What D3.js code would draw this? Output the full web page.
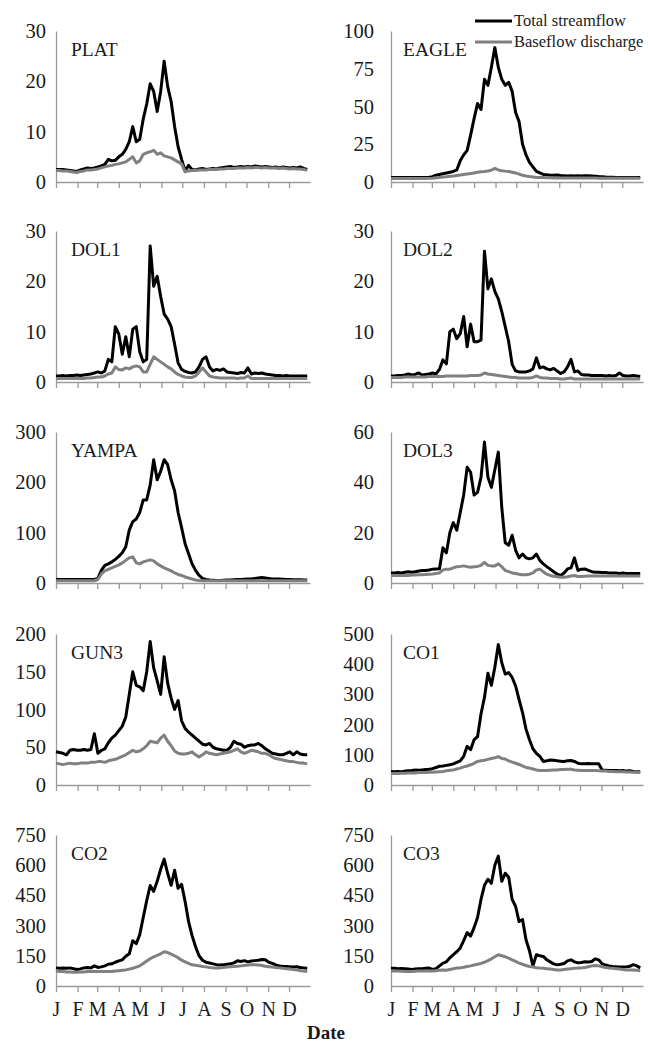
<!DOCTYPE html>
<html><head><meta charset="utf-8">
<script src="https://cdn.jsdelivr.net/npm/d3@7"></script>
<style>body{margin:0;background:#fff}svg{display:block}
svg text{font-family:"Liberation Serif","Times New Roman",Times,"DejaVu Serif",serif !important;}
</style>
</head><body>
<svg id="chart" width="648" height="1046"></svg>
<script>
// ---- data ----
const monthLabels = ["J","F","M","A","M","J","J","A","S","O","N","D"];
const sampleDays = d3.range(0, 361, 5); // day of year of each sample
const legendLabels = ["Total streamflow", "Baseflow discharge"];
const xTitle = "Date";

const platTotal = [2.5,2.5,2.5,2.4,2.3,2.2,2.1,2.4,2.6,2.8,
2.7,2.8,3.0,3.2,3.5,4.5,4.2,4.3,5.0,5.5,
6.5,8.0,11.0,8.0,8.5,12.5,15.5,19.5,18.0,14.0,
18.0,24.0,19.0,16.0,11.0,7.0,4.5,2.2,3.3,2.5,
2.4,2.6,2.7,2.5,2.6,2.7,2.6,2.8,2.9,3.0,
3.1,2.9,3.0,3.1,3.0,3.1,3.0,3.2,3.1,3.0,
3.1,3.0,2.9,3.0,2.8,3.0,2.9,2.8,2.9,2.8,
3.0,2.7,2.5];
const platBase = [2.3,2.3,2.2,2.2,2.1,2.0,1.9,2.1,2.2,2.4,
2.4,2.5,2.6,2.8,3.0,3.2,3.3,3.5,3.6,3.8,
4.0,4.5,5.0,3.8,4.2,5.5,5.8,6.0,6.3,5.5,
5.8,5.2,5.0,4.8,4.4,4.0,3.6,2.0,2.2,2.3,
2.3,2.4,2.4,2.4,2.5,2.5,2.5,2.6,2.6,2.7,
2.7,2.7,2.8,2.8,2.8,2.9,2.8,2.9,2.9,2.8,
2.9,2.8,2.8,2.8,2.7,2.8,2.7,2.6,2.7,2.6,
2.6,2.5,2.3];
const eagleTotal = [3,3,3,3,3,3,3,3,3,3,
3,3.2,3.5,4.5,5,5.5,6,6.5,7,8,
14,18,21,31,42,52,48,68,64,76,
89,76,68,64,66,60,46,40,25,18,
13,10,7,6,5,4.8,4.5,4.5,4.6,4.3,
4.2,4.0,4.2,4.0,4.1,4.0,4.2,4.1,4.0,3.8,
3.6,3.5,3.3,3.2,3.1,3.0,3.0,3.0,2.9,3.0,
3.0,2.9,2.9];
const eagleBase = [2.3,2.3,2.3,2.3,2.3,2.3,2.3,2.3,2.3,2.3,
2.3,2.4,2.5,2.8,3.0,3.3,3.5,3.8,4.0,4.3,
4.6,5.0,5.3,5.6,6.0,6.4,6.8,7.0,7.3,7.8,
9.0,8.0,7.5,7.2,7.0,6.5,6.0,5.2,4.5,4.0,
3.6,3.3,3.0,3.0,2.9,2.8,2.8,2.7,2.7,2.6,
2.6,2.6,2.6,2.6,2.6,2.6,2.6,2.6,2.6,2.6,
2.5,2.5,2.5,2.5,2.5,2.5,2.5,2.5,2.5,2.5,
2.5,2.5,2.4];
const dol1Total = [1.2,1.2,1.3,1.2,1.3,1.3,1.4,1.3,1.4,1.5,
1.6,1.8,2.0,1.8,2.2,4.5,4.0,11.0,9.5,5.5,
9.0,5.0,10.5,11.0,6.0,4.0,4.5,27.0,19.0,21.0,
17.0,13.5,12.5,11.0,7.5,3.8,2.5,2.1,1.9,1.8,
2.0,3.0,4.5,5.0,3.0,2.2,2.5,2.3,2.6,2.0,
1.9,1.8,1.7,1.9,1.8,2.8,1.6,1.8,1.7,1.8,
1.6,1.5,1.4,1.3,1.3,1.2,1.3,1.2,1.2,1.2,
1.2,1.2,1.2];
const dol1Base = [0.7,0.7,0.7,0.7,0.7,0.7,0.7,0.7,0.7,0.8,
0.8,0.9,1.0,1.0,1.2,1.6,1.8,3.0,2.5,2.4,
2.8,2.6,3.0,3.2,3.0,2.0,2.0,3.5,5.0,4.5,
4.0,3.5,3.0,2.6,2.0,1.5,1.2,1.0,0.9,0.9,
1.2,2.0,2.8,2.0,1.2,1.0,0.9,0.8,0.8,0.8,
0.8,0.8,0.7,0.8,0.8,1.2,0.7,0.7,0.7,0.7,
0.7,0.7,0.7,0.7,0.7,0.7,0.7,0.7,0.7,0.7,
0.7,0.7,0.7];
const dol2Total = [1.2,1.2,1.3,1.3,1.4,1.6,1.4,1.5,1.8,1.4,
1.5,1.6,1.8,1.6,2.5,4.4,3.6,10.0,10.5,8.6,
9.6,13.0,7.0,11.5,8.0,8.0,8.3,26.0,18.5,20.5,
18.0,16.5,14.0,11.0,8.0,3.5,2.2,2.0,2.0,2.0,
2.2,2.6,4.8,2.8,3.0,2.6,2.4,2.7,2.2,1.7,
2.0,3.0,4.5,2.0,2.2,1.5,1.4,1.4,1.3,1.3,
1.3,1.3,1.2,1.3,1.2,1.3,1.8,1.3,1.2,1.2,
1.3,1.2,1.1];
const dol2Base = [0.9,0.9,0.9,0.9,1.0,1.0,1.0,1.0,1.0,1.0,
1.0,1.1,1.1,1.1,1.1,1.1,1.2,1.2,1.2,1.2,
1.2,1.2,1.2,1.3,1.3,1.3,1.4,1.8,1.6,1.5,
1.4,1.3,1.2,1.1,1.0,0.9,0.9,0.8,0.8,0.8,
0.8,0.9,1.2,0.9,0.8,0.8,0.7,0.7,0.7,0.6,
0.6,0.7,0.8,0.6,0.6,0.6,0.6,0.6,0.6,0.6,
0.6,0.6,0.6,0.6,0.6,0.6,0.6,0.6,0.6,0.6,
0.6,0.6,0.6];
const yampaTotal = [7,7,7,7,7,7,7,7,7,7,
7,7,9,25,35,38,42,47,53,60,
72,105,122,127,140,165,165,195,245,205,
222,245,235,205,183,140,110,78,58,38,
25,15,9,7,6,5.5,5,5,5.5,6,
6,6.5,7,7,7.5,8,8,9,10,11,
10,9,8,8,8,7.5,7,7,6.5,6.5,
6.5,6,6];
const yampaBase = [4.5,4.5,4.5,4.5,4.5,4.5,4.5,4.5,4.5,4.5,
4.5,4.5,7,18,24,27,30,33,36,40,
45,50,52,40,38,42,44,46,44,38,
34,30,27,24,20,17,15,12,10,8,
6,5,4.5,4.5,4.5,4.5,4.5,4.5,4.5,4.5,
4.5,4.5,4.5,4.5,4.5,4.5,4.5,4.5,4.5,4.5,
4.5,4.5,4.5,4.5,4.5,4.5,4.5,4.5,4.5,4.5,
4.5,4.5,4.5];
const dol3Total = [4,4,4.2,4,4.3,4.5,4.3,4.5,4.8,5,
5,5.2,5.5,5.6,5.7,14,12,20,24,21,
28,35,46,44,35,36,42,56,42,38,
45,52,30,16,15,19,13,10,11.5,10,
9.6,10,11.5,9,7.6,6.5,5.5,4.5,3.5,3,
4,5.6,6,10,5,5.5,5.6,5,4.5,4.3,
4.3,4.2,4.2,4,4,4,3.8,4,3.8,3.8,
3.8,3.8,3.8];
const dol3Base = [3,3,3,3,3,3,3.2,3.2,3.3,3.3,
3.4,3.5,3.6,3.8,4.0,5.2,5.5,5.5,6.0,6.5,
6.6,6.8,6.5,6.3,6.5,6.6,7.0,8.2,7.0,6.8,
6.8,7.6,6.5,5.0,4.5,4.0,3.8,3.5,3.3,3.3,
3.5,4.0,5.2,5.5,4.5,3.5,3.0,2.7,2.5,2.3,
2.3,2.5,2.8,3.0,2.6,2.6,2.7,2.8,2.8,2.8,
2.8,2.8,2.8,2.8,2.8,2.8,2.8,2.8,2.8,2.8,
2.8,2.8,2.8];
const gun3Total = [44,43,42,40,46,47,46,46,47,46,
47,68,42,46,48,56,62,66,72,78,
90,120,150,132,130,125,150,190,155,138,
120,170,135,115,100,112,85,75,70,66,
62,58,54,53,55,50,48,47,46,46,
50,58,55,54,50,52,53,53,55,52,
48,45,42,41,40,40,42,44,40,44,
41,40,40];
const gun3Base = [29,28,27,28,29,28,28,29,29,29,
30,30,31,31,30,32,33,34,36,38,
40,43,46,44,45,48,52,58,57,56,
62,66,58,52,45,42,41,41,42,44,
40,37,40,44,42,41,40,41,42,43,
44,46,48,44,42,44,46,45,44,42,
42,40,37,35,34,33,32,31,31,30,
29,29,28];
const co1Total = [45,44,45,44,46,47,48,50,49,50,
51,52,54,58,62,63,65,67,70,75,
80,95,128,117,150,160,235,290,370,330,
390,465,405,367,372,356,328,283,240,185,
150,120,105,95,78,80,83,82,80,79,
78,80,81,78,72,70,70,71,70,70,
70,50,49,48,48,48,47,48,46,47,
45,44,44];
const co1Base = [38,38,38,39,39,40,40,40,41,41,
41,42,42,43,44,45,47,49,50,53,
56,60,63,67,72,78,80,82,85,88,
90,94,88,86,80,76,72,68,63,58,
56,53,50,48,48,48,49,50,50,51,
51,52,52,50,49,48,48,48,48,48,
47,46,46,45,45,44,44,44,43,43,
42,42,41];
const co2Total = [90,88,89,88,90,86,82,85,90,92,
90,100,92,95,100,108,110,118,125,130,
148,160,225,210,255,340,424,499,470,520,
580,630,560,500,575,485,505,420,320,250,
195,150,128,118,114,110,106,104,105,108,
110,115,125,122,126,120,124,126,128,132,
130,118,112,105,100,98,97,96,95,96,
92,90,88];
const co2Base = [74,72,72,70,70,68,68,70,70,72,
72,72,72,72,72,72,72,74,76,78,
80,84,88,94,100,112,124,135,145,152,
160,170,166,158,150,140,128,120,112,105,
103,100,97,95,92,90,89,90,92,94,
96,97,98,100,102,104,106,105,104,102,
98,96,94,92,90,88,86,84,82,80,
76,74,72];
const co3Total = [88,88,86,87,86,84,82,84,86,86,
88,89,82,86,100,114,120,140,156,170,
189,225,265,248,290,340,430,500,530,510,
600,645,520,560,540,430,395,320,330,230,
175,100,155,150,147,130,120,110,105,108,
112,125,130,120,115,117,120,119,122,135,
130,110,104,100,97,96,95,94,95,98,
106,100,90];
const co3Base = [75,74,74,73,72,72,72,73,74,74,
75,75,74,76,78,80,78,82,86,89,
90,93,97,100,104,108,112,118,126,135,
145,155,150,145,138,130,122,114,108,102,
97,94,91,89,88,86,84,82,80,80,
82,84,86,88,89,90,92,96,100,102,
100,96,92,89,88,86,84,82,80,80,
80,78,76];

const ticksPLAT = [0,10,20,30];
const ticksEAGLE = [0,25,50,75,100];
const ticksDOL1 = [0,10,20,30];
const ticksDOL2 = [0,10,20,30];
const ticksYAMPA = [0,100,200,300];
const ticksDOL3 = [0,20,40,60];
const ticksGUN3 = [0,50,100,150,200];
const ticksCO1 = [0,100,200,300,400,500];
const ticksCO2 = [0,150,300,450,600,750];
const ticksCO3 = [0,150,300,450,600,750];

const panels = [
  {name:"PLAT", total:platTotal, base:platBase, ticks:ticksPLAT},
  {name:"EAGLE", total:eagleTotal, base:eagleBase, ticks:ticksEAGLE},
  {name:"DOL1", total:dol1Total, base:dol1Base, ticks:ticksDOL1},
  {name:"DOL2", total:dol2Total, base:dol2Base, ticks:ticksDOL2},
  {name:"YAMPA", total:yampaTotal, base:yampaBase, ticks:ticksYAMPA},
  {name:"DOL3", total:dol3Total, base:dol3Base, ticks:ticksDOL3},
  {name:"GUN3", total:gun3Total, base:gun3Base, ticks:ticksGUN3},
  {name:"CO1", total:co1Total, base:co1Base, ticks:ticksCO1},
  {name:"CO2", total:co2Total, base:co2Base, ticks:ticksCO2},
  {name:"CO3", total:co3Total, base:co3Base, ticks:ticksCO3}
];

// ---- layout ----
const colX0 = [56, 391], colX1 = [310, 643];
const rowTop = [31, 231, 432, 634, 835];
const plotH = 151;
const FONT = "Liberation Serif";
const AXIS = "#9a9a9a";
const TEXT = "#1a1a1a";
const year = 2001;
const toDate = d => new Date(year, 0, 1 + d);
const monthStarts = d3.range(12).map(m => new Date(year, m, 1));

const svg = d3.select("#chart");

panels.forEach((p, i) => {
  const col = i % 2, row = Math.floor(i / 2);
  const x = d3.scaleTime().domain([new Date(year,0,1), new Date(year,11,31)]).range([colX0[col], colX1[col]]);
  const y = d3.scaleLinear().domain([0, d3.max(p.ticks)]).range([rowTop[row] + plotH, rowTop[row]]);
  const g = svg.append("g");

  const xa = g.append("g").attr("transform", `translate(0,${y(0)})`)
    .call(d3.axisBottom(x).tickValues(monthStarts).tickSize(6).tickSizeOuter(0).tickPadding(10)
      .tickFormat((d, k) => row === 4 ? monthLabels[k] : ""));
  xa.attr("font-family", FONT);
  xa.select(".domain").attr("stroke", AXIS).attr("stroke-width", 1.3);
  xa.selectAll(".tick line").attr("stroke", AXIS).attr("stroke-width", 1.3);
  xa.selectAll(".tick text").attr("font-size", 20).attr("fill", TEXT);

  const ya = g.append("g").attr("transform", `translate(${colX0[col]},0)`)
    .call(d3.axisLeft(y).tickValues(p.ticks).tickSize(0).tickSizeOuter(0).tickPadding(col === 0 ? 10 : 17));
  ya.attr("font-family", FONT);
  ya.select(".domain").attr("stroke", AXIS).attr("stroke-width", 1.3);
  ya.selectAll(".tick text").attr("font-size", 20.5).attr("fill", TEXT);

  const line = arr => d3.line().x((d, k) => x(toDate(sampleDays[k]))).y(d => y(d))
    .curve(d3.curveLinear)(arr);

  g.append("path").attr("d", line(p.total)).attr("fill", "none")
    .attr("stroke", "#000").attr("stroke-width", 3).attr("stroke-linejoin", "round");
  g.append("path").attr("d", line(p.base)).attr("fill", "none")
    .attr("stroke", "#808080").attr("stroke-width", 3).attr("stroke-linejoin", "round");

  g.append("text").attr("x", colX0[col] + (col === 0 ? 15 : 12)).attr("y", rowTop[row] + 25)
    .attr("font-family", FONT).attr("font-size", 19.5).attr("fill", TEXT).text(p.name);
});

const legColors = ["#000", "#808080"];
const legY = [21, 42];
legendLabels.forEach((t, k) => {
  svg.append("line").attr("x1", 475).attr("x2", 512).attr("y1", legY[k]).attr("y2", legY[k])
    .attr("stroke", legColors[k]).attr("stroke-width", 3);
  svg.append("text").attr("x", 514).attr("y", legY[k] + 5)
    .attr("font-family", FONT).attr("font-size", 16.5).attr("fill", TEXT).text(t);
});

svg.append("text").attr("x", 326).attr("y", 1039).attr("text-anchor", "middle")
  .attr("font-family", FONT).attr("font-size", 19).attr("font-weight", "bold").attr("fill", TEXT).text(xTitle);
</script>
</body></html>
